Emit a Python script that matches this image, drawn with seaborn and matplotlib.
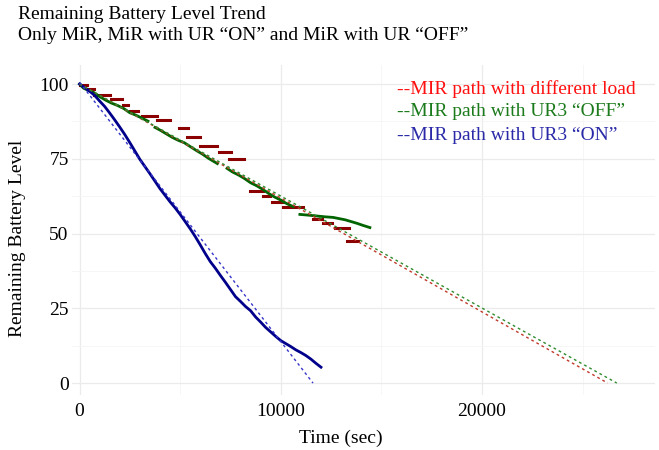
import numpy as np
import pandas as pd
import matplotlib
matplotlib.use("Agg")
import matplotlib.pyplot as plt
import seaborn as sns

# MiR with UR3 "ON" (time in sec, battery %)
on_time = [0, 250, 500, 750, 1000, 1250, 1500, 1750, 2000, 2250, 2500, 2750,
           3000, 3250, 3500, 3750, 4000, 4250, 4500, 4750, 5000, 5250, 5500,
           5750, 6000, 6250, 6500, 6750, 7000, 7250, 7500, 7750, 8000, 8250,
           8500, 8750, 9000, 9250, 9500, 9750, 10000, 10250, 10500, 10750,
           11000, 11250, 11500, 11750, 12000]
on_level = [100, 98.8, 97.6, 96.2, 94.3, 92.5, 90.3, 88.0, 85.6, 83.1, 80.4,
            77.6, 74.8, 72.4, 70.0, 67.5, 65.0, 62.8, 60.6, 58.6, 56.4, 54.0,
            51.6, 49.0, 46.2, 43.3, 40.6, 38.4, 36.0, 33.7, 31.3, 28.9, 27.3,
            25.6, 24.2, 22.1, 20.4, 18.6, 17.1, 15.6, 14.2, 13.2, 12.2, 11.1,
            10.2, 9.2, 8.0, 6.6, 5.3]

# MiR with UR3 "OFF" - the log jumps a few times, so keep runs apart
off_time = [0, 200, 400, 700, 1000, 1300, 1600, 1900, 2200, 2500, 2800, 3100, 3400,
            3750, 4000, 4300, 4600, 4900, 5200, 5500, 5800, 6100, 6400, 6850,
            7330, 7600, 7900, 8200, 8500, 8800, 9100, 9400, 9700, 10000, 10300, 10620,
            10950, 11300, 11600, 11900, 12200, 12600, 12900, 13200, 13500, 13800, 14100, 14430]
off_level = [100, 98.6, 98.0, 97.2, 95.8, 94.6, 93.6, 92.8, 91.8, 90.4, 89.6, 88.6, 87.6,
             85.5, 84.6, 83.4, 82.2, 81.2, 80.4, 79.1, 77.8, 76.6, 75.2, 73.4,
             71.8, 70.6, 69.6, 68.4, 67.0, 66.0, 64.8, 63.4, 62.2, 61.2, 60.0, 59.0,
             56.4, 56.2, 56.0, 55.8, 55.6, 55.4, 55.0, 54.6, 54.0, 53.4, 52.7, 52.0]
off_run = [1] * 13 + [2] * 11 + [3] * 12 + [4] * 12

# MiR path with different load - flat steps (start sec, end sec, level)
load_start = [0, 350, 700, 1550, 2150, 2500, 3100, 3850, 4930, 5350, 6000, 6950,
              7420, 8470, 9130, 9560, 10110, 11600, 12110, 12690, 13270]
load_end = [350, 700, 1520, 2100, 2400, 2900, 3850, 4500, 5400, 6000, 6830, 7530,
            8150, 9100, 9460, 10100, 11100, 12050, 12530, 13380, 13850]
load_level = [99.6, 98.2, 96.5, 95.0, 93.0, 91.0, 89.3, 87.9, 85.4, 82.2, 79.3, 77.3,
              74.8, 64.2, 62.4, 60.7, 59.0, 55.0, 53.4, 51.7, 47.6]

# dashed linear trends as drawn on the chart (intercept %, slope %/sec)
trend_icept = [100.0, 100.0, 100.6]
trend_slope = [-0.00381, -0.003745, -0.00867]

dot_cols = ["#8b0000", "#006400", "#00008b"]
line_cols = ["#c0392b", "#2e8b2e", "#3535c8"]
text_cols = ["#ff1010", "#1b7a1b", "#2a2aa8"]
legend_txt = ["--MIR path with different load",
              "--MIR path with UR3 \u201cOFF\u201d",
              "--MIR path with UR3 \u201cON\u201d"]

on_df = pd.DataFrame({"t": on_time, "lvl": on_level})
off_df = pd.DataFrame({"t": off_time, "lvl": off_level, "run": off_run})
load_df = pd.DataFrame({
    "t": np.ravel(np.column_stack([load_start, load_end])),
    "lvl": np.repeat(load_level, 2),
    "run": np.repeat(np.arange(len(load_level)), 2),
})

plt.rcParams["font.family"] = ["Liberation Serif", "DejaVu Serif"]
fig = plt.figure(figsize=(6.59, 4.5), dpi=100)
ax = fig.add_axes([0.1085, 0.1222, 0.8854, 0.7342])

sns.lineplot(data=load_df, x="t", y="lvl", units="run", estimator=None,
             color=dot_cols[0], lw=2.2, sort=False, ax=ax)
sns.lineplot(data=off_df, x="t", y="lvl", units="run", estimator=None,
             color=dot_cols[1], lw=2.0, sort=False, ax=ax)
sns.lineplot(data=on_df, x="t", y="lvl", estimator=None,
             color=dot_cols[2], lw=2.0, sort=False, ax=ax)

for b, m, c in zip(trend_icept, trend_slope, line_cols):
    tr = pd.DataFrame({"t": [0, -b / m], "lvl": [b, 0]})
    sns.lineplot(data=tr, x="t", y="lvl", color=c, lw=1.0,
                 linestyle=(0, (2, 2.2)), ax=ax)

ax.set_xlim(-400, 28600)
ax.set_ylim(-4, 106.5)
ax.set_xticks([0, 10000, 20000])
ax.set_yticks([0, 25, 50, 75, 100])
ax.set_xticks([5000, 15000, 25000], minor=True)
ax.set_yticks([12.5, 37.5, 62.5, 87.5], minor=True)
ax.grid(True, which="major", color="#ebebeb", lw=0.9)
ax.grid(True, which="minor", color="#f5f5f5", lw=0.6)
ax.set_axisbelow(True)
for s in ax.spines.values():
    s.set_visible(False)
ax.tick_params(which="both", length=0, labelsize=14)
ax.tick_params(axis="x", pad=6)
ax.tick_params(axis="y", pad=2)
ax.set_xlabel("")
ax.set_ylabel("")

fig.text(18 / 659, 1 - 6 / 450,
         "Remaining Battery Level Trend\nOnly MiR, MiR with UR \u201cON\u201d and MiR with UR \u201cOFF\u201d",
         fontsize=14, va="top", ha="left", linespacing=1.3)
fig.text(341 / 659, 1 - 438 / 450, "Time (sec)", fontsize=14, ha="center", va="center")
fig.text(18 / 659, 1 - 238 / 450, "Remaining Battery Level", fontsize=14,
         rotation=90, ha="center", va="center")

for i, (txt, c) in enumerate(zip(legend_txt, text_cols)):
    fig.text(397 / 659, 1 - (89 + 23 * i) / 450, txt, color=c, fontsize=14,
             ha="left", va="center")

fig.savefig("out.png", dpi=100)
